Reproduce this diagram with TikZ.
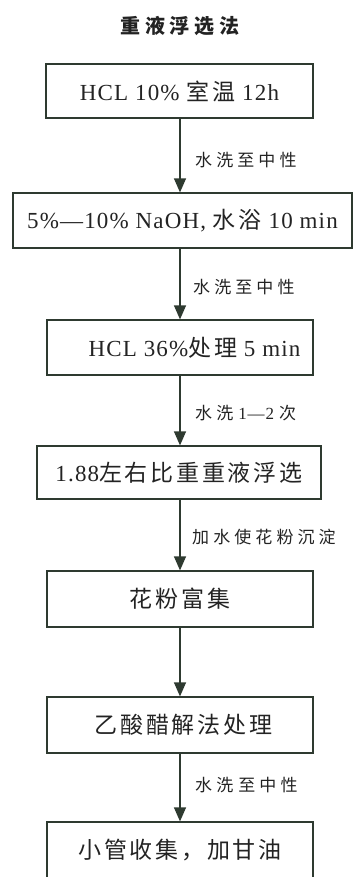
\documentclass[tikz,border=0pt]{standalone}
\usepackage{fontspec}
\setmainfont{Liberation Serif}[LetterSpace=5]
\newfontfamily\cjk{Noto Sans CJK SC}[LetterSpace=12]
\newfontfamily\cjkw{Noto Sans CJK SC}[LetterSpace=24]
\usetikzlibrary{arrows.meta}
\newcommand{\zh}[1]{{\cjk #1}}
\newcommand{\zhw}[1]{{\cjkw #1}}
\definecolor{ln}{HTML}{2E3A30}
\definecolor{tx}{HTML}{232323}
\begin{document}
\begin{tikzpicture}[x=1bp,y=-1bp,
  stepbox/.style={draw=ln, line width=1.2bp, minimum height=55bp, inner sep=0pt, text=tx,
    font=\fontsize{23bp}{27bp}\selectfont},
  flow/.style={draw=ln, line width=1.2bp, -{Triangle[length=14bp,width=12bp]}},
  lab/.style={anchor=west, text=tx, inner sep=0pt, font=\fontsize{17bp}{20bp}\selectfont}]
\useasboundingbox (0,0) rectangle (353,877);
\coordinate (axis) at (180,0);
\node[text=tx, font=\fontsize{20bp}{24bp}\selectfont\bfseries] (title) at (180,26) {\zhw{重液浮选法}};
\node[stepbox, minimum width=267bp, minimum height=54bp] (b1) at (179.5,91) {HCL 10\% \zh{室温} 12h};
\node[stepbox, minimum width=339bp] (b2) at (182.5,220.5) {5\%—10\% NaOH, \zh{水浴} 10 min};
\node[stepbox, minimum width=266bp] (b3) at (180,347.5) {\hspace*{29bp}HCL 36\%\zh{处理} 5 min};
\node[stepbox, minimum width=284bp, minimum height=53bp] (b4) at (179,472.5) {1.88\zh{左右比重重液浮选}};
\node[stepbox, minimum width=266bp, minimum height=56bp] (b5) at (180,599) {\zh{花粉富集}};
\node[stepbox, minimum width=266bp, minimum height=56bp] (b6) at (180,725) {\hspace*{7bp}\zh{乙酸醋解法处理}};
\node[stepbox, minimum width=266bp, minimum height=56bp] (b7) at (180,850) {\zh{小管收集，加甘油}};
\draw[flow] (b1.south -| axis) -- (b2.north -| axis);
\draw[flow] (b2.south -| axis) -- (b3.north -| axis);
\draw[flow] (b3.south -| axis) -- (b4.north -| axis);
\draw[flow] (b4.south -| axis) -- (b5.north -| axis);
\draw[flow] (b5.south -| axis) -- (b6.north -| axis);
\draw[flow] (b6.south -| axis) -- (b7.north -| axis);
\node[lab] (l1) at (195,160) {\zhw{水洗至中性}};
\node[lab] (l2) at (193,287) {\zhw{水洗至中性}};
\node[lab] (l3) at (195,413) {\zhw{水洗} 1—2 \zhw{次}};
\node[lab] (l4) at (192,537) {\zhw{加水使花粉沉淀}};
\node[lab] (l6) at (195,785) {\zhw{水洗} \zhw{至中性}};
\end{tikzpicture}
\end{document}
